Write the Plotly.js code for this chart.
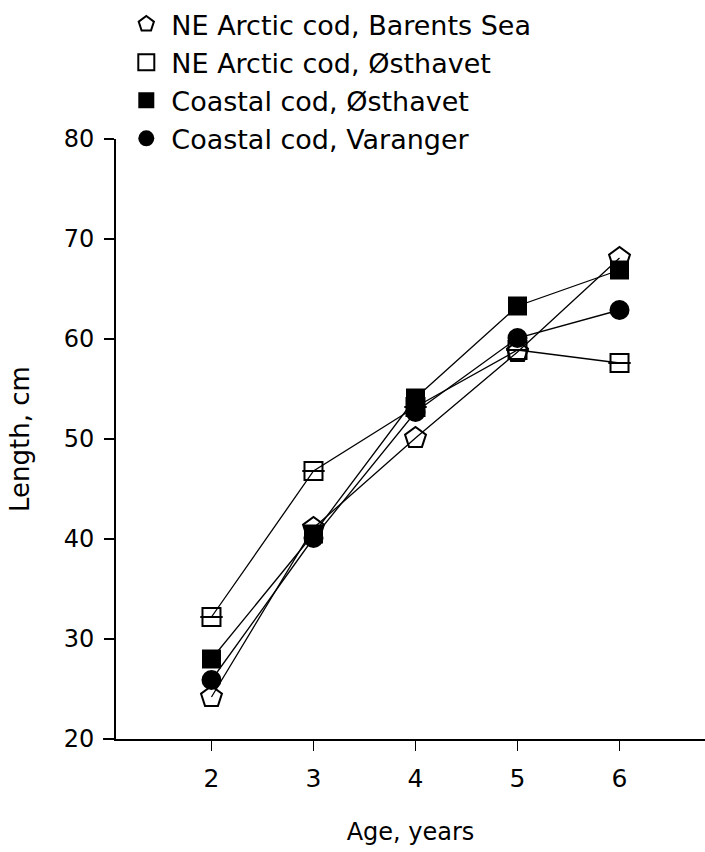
<!DOCTYPE html>
<html>
<head>
<meta charset="utf-8">
<script src="https://cdn.plot.ly/plotly-3.0.1.min.js"></script>
<style>
  html, body { margin: 0; padding: 0; background: #fff; }
  #chart { width: 705px; height: 852px; }
</style>
</head>
<body>
<div id="chart"></div>
<script>
// ---- data ----
const ages = [2, 3, 4, 5, 6];
const seriesNames = [
  "NE Arctic cod, Barents Sea",
  "NE Arctic cod, Østhavet",
  "Coastal cod, Østhavet",
  "Coastal cod, Varanger"
];
const barentsSea      = [24.2, 41.1, 50.1, 58.7, 68.1];
const neArcticOsthav  = [32.2, 46.8, 53.2, 58.9, 57.6];
const coastalOsthav   = [28.0, 40.5, 54.1, 63.3, 66.9];
const coastalVaranger = [25.9, 40.1, 52.7, 60.1, 62.9];
const yTicks = [20, 30, 40, 50, 60, 70, 80];
const xTicks = [2, 3, 4, 5, 6];

const FONT = "DejaVu Sans, Liberation Sans, sans-serif";
const lineStyle = {color: "#000", width: 1.3};

const seriesY = [barentsSea, neArcticOsthav, coastalOsthav, coastalVaranger];
const markerStyles = [
  {symbol: "pentagon-open", size: 22, color: "#000", line: {width: 2, color: "#000"}},
  {symbol: "square-open", size: 18, color: "#000", line: {width: 2, color: "#000"}},
  {symbol: "square", size: 19, color: "#000"},
  {symbol: "circle", size: 20, color: "#000"}
];

const traces = [];
// connecting lines (not in legend)
seriesY.forEach((ys, i) => {
  traces.push({
    x: ages, y: ys, name: seriesNames[i], type: "scatter", mode: "lines",
    line: lineStyle, showlegend: false, hoverinfo: "skip"
  });
});
// markers (legend entries)
seriesY.forEach((ys, i) => {
  traces.push({
    x: ages, y: ys, name: seriesNames[i], type: "scatter", mode: "markers",
    marker: markerStyles[i]
  });
  if (i === 1) {
    // horizontal bar inside the open squares
    traces.push({
      x: ages, y: ys, name: seriesNames[i], type: "scatter", mode: "markers",
      showlegend: false, hoverinfo: "skip",
      marker: {symbol: "line-ew-open", size: 16, color: "#000", line: {width: 2, color: "#000"}}
    });
  }
});

const layout = {
  width: 705, height: 852,
  paper_bgcolor: "#fff", plot_bgcolor: "#fff",
  margin: {l: 116, r: 0, t: 139, b: 113},
  font: {family: FONT, size: 25, color: "#000"},
  showlegend: true,
  legend: {
    x: 0.009, y: 1.232, xanchor: "left", yanchor: "top",
    bgcolor: "rgba(0,0,0,0)", borderwidth: 0,
    itemwidth: 40,
    font: {family: FONT, size: 27, color: "#000"},
    traceorder: "normal"
  },
  xaxis: {
    range: [1.064, 6.838],
    tickmode: "array", tickvals: xTicks, ticktext: xTicks.map(String),
    ticks: "outside", ticklen: 10, tickwidth: 1.4, tickcolor: "#000",
    showline: true, linecolor: "#000", linewidth: 2,
    showgrid: false, zeroline: false,
    ticklabelstandoff: 6,
    automargin: true,
    tickfont: {family: FONT, size: 25, color: "#000"},
    title: {text: "Age, years", font: {family: FONT, size: 24, color: "#000"}, standoff: 31}
  },
  yaxis: {
    range: [20, 80],
    tickmode: "array", tickvals: yTicks, ticktext: yTicks.map(String),
    ticks: "outside", ticklen: 10, tickwidth: 1.4, tickcolor: "#000",
    showline: true, linecolor: "#000", linewidth: 2,
    showgrid: false, zeroline: false,
    ticklabelstandoff: 5,
    automargin: true,
    tickfont: {family: FONT, size: 24, color: "#000"},
    title: {text: "Length, cm", font: {family: FONT, size: 26, color: "#000"}, standoff: 27}
  },
  shapes: [
    {type: "line", xref: "paper", yref: "paper", x0: -0.022, x1: 0, y0: 0, y1: 0,
     line: {color: "#000", width: 2}}
  ]
};

Plotly.newPlot("chart", traces, layout, {displayModeBar: false, staticPlot: true});
</script>
</body>
</html>
